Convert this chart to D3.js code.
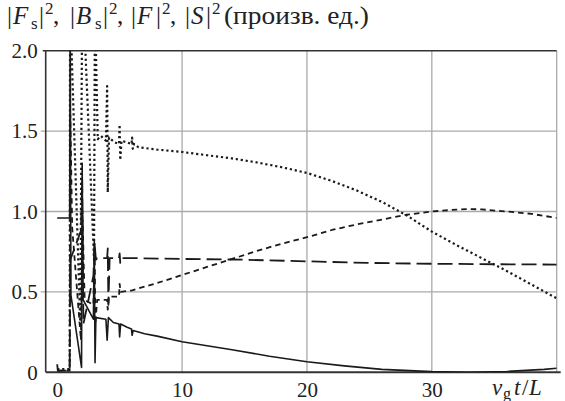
<!DOCTYPE html>
<html>
<head>
<meta charset="utf-8">
<script src="https://cdn.jsdelivr.net/npm/d3@7"></script>
<style>
  body { margin: 0; background: #fff; }
  svg text { font-family: "Liberation Serif", "Times New Roman", "DejaVu Serif", serif; fill: #222; }
</style>
</head>
<body>
<script>
// Chart size
const width = 565;
const height = 401;
const margin = { top: 50.7, right: 8.3, bottom: 28.7, left: 45.7 };

// Tick values
const xTicks = [0, 10, 20, 30];
const yTicks = [0, 0.5, 1.0, 1.5, 2.0];

// Curves, [v_g t/L, value]
const solidCurve = [[0, 0.96], [1.0, 0.96], [1.04, 2.3], [1.1, 0.48], [1.95, 0.03], [2.0, 1.3], [2.08, 0.45],
  [2.9, 0.33], [2.97, 0.82], [3.03, 0.06], [3.1, 0.34], [3.9, 0.33], [4.0, 0.2], [4.1, 0.34], [4.5, 0.31],
  [4.95, 0.3], [5.0, 0.22], [5.08, 0.3], [5.6, 0.28], [5.95, 0.27], [6.0, 0.23], [6.08, 0.26], [7, 0.24],
  [8, 0.225], [10, 0.19], [12, 0.165], [14, 0.14], [17, 0.1], [20, 0.066], [23, 0.04], [26, 0.018],
  [30, 0.004], [33, 0.0], [36, 0.005], [39, 0.018], [40, 0.025]];

const dottedCurve = [[0, 0.02], [1.0, 0.02], [1.03, 2.3], [1.85, 0.3], [2.0, 2.3], [2.1, 2.3], [2.95, 0.7],
  [3.02, 2.3], [3.25, 1.45], [3.5, 1.47], [3.9, 1.44], [4.0, 1.78], [4.05, 1.12], [4.15, 1.46], [4.6, 1.43],
  [4.95, 1.42], [5.0, 1.54], [5.05, 1.32], [5.15, 1.44], [5.6, 1.43], [5.95, 1.42], [6.0, 1.46],
  [6.05, 1.39], [6.15, 1.42], [6.5, 1.40], [8, 1.385], [10, 1.37], [12, 1.35], [14, 1.33], [16, 1.305],
  [18, 1.275], [20, 1.24], [22, 1.19], [24, 1.13], [26, 1.06], [28, 0.975], [30, 0.875], [32, 0.79],
  [34, 0.71], [36, 0.63], [38, 0.545], [40, 0.46]];

const shortDashCurve = [[0, 0.01], [1.0, 0.01], [1.05, 1.6], [1.2, 0.9], [1.9, 0.2], [2.02, 1.0], [2.2, 0.45],
  [2.9, 0.42], [3.0, 0.8], [3.05, 0.3], [3.2, 0.45], [4.0, 0.45], [4.05, 0.39], [4.15, 0.47], [4.95, 0.47],
  [5.0, 0.55], [5.08, 0.5], [6, 0.51], [8, 0.555], [10, 0.605], [12, 0.655], [14, 0.705], [16, 0.755],
  [18, 0.8], [20, 0.84], [22, 0.885], [24, 0.92], [26, 0.95], [28, 0.98], [30, 1.0], [32, 1.012],
  [33, 1.015], [34, 1.013], [36, 1.0], [38, 0.985], [40, 0.96]];

const longDashCurve = [[0, 0.05], [0.05, 0.01], [1.0, 0.01], [1.05, 0.7], [1.9, 0.88], [2.0, 1.2], [2.1, 0.3],
  [2.9, 0.6], [3.0, 0.8], [3.1, 0.7], [3.2, 0.71], [4.0, 0.71], [4.05, 0.77], [4.1, 0.42], [4.2, 0.71],
  [4.95, 0.71], [5.0, 0.74], [5.05, 0.68], [5.1, 0.71], [6, 0.71], [10, 0.705], [15, 0.7], [20, 0.69],
  [25, 0.68], [30, 0.675], [35, 0.672], [40, 0.67]];

const svg = d3.select("body").append("svg")
    .attr("width", width)
    .attr("height", height);

const x = d3.scaleLinear().domain([-0.92, 40]).range([margin.left, width - margin.right]);
const y = d3.scaleLinear().domain([0, 2]).range([height - margin.bottom, margin.top]);

// Clip for the spikes that run off the top
svg.append("clipPath").attr("id", "plot")
  .append("rect")
    .attr("x", x.range()[0])
    .attr("y", y(2))
    .attr("width", x.range()[1] - x.range()[0])
    .attr("height", y(0) - y(2));

// Grid lines
svg.append("g")
  .selectAll("line")
  .data(xTicks.filter(d => d > 0).concat([40]))
  .join("line")
    .attr("x1", d => x(d)).attr("x2", d => x(d))
    .attr("y1", y(0)).attr("y2", y(2))
    .attr("stroke", "#aaa")
    .attr("stroke-width", 1.3);

svg.append("g")
  .selectAll("line")
  .data(yTicks.filter(d => d > 0 && d < 2))
  .join("line")
    .attr("x1", x.range()[0] - 5).attr("x2", x.range()[1])
    .attr("y1", d => y(d)).attr("y2", d => y(d))
    .attr("stroke", "#aaa")
    .attr("stroke-width", 1.3);

// Axes (labels only, lines drawn separately)
const yAxis = d3.axisLeft(y)
    .tickValues(yTicks)
    .tickSize(0)
    .tickPadding(8)
    .tickFormat(d => d === 0 ? "0" : d3.format(".1f")(d));

svg.append("g")
    .attr("transform", `translate(${x.range()[0]},0)`)
    .call(yAxis)
    .call(g => g.select(".domain").remove())
    .call(g => g.selectAll("text").attr("font-size", 21));

const xAxis = d3.axisBottom(x)
    .tickValues(xTicks)
    .tickSize(0)
    .tickPadding(10);

svg.append("g")
    .attr("transform", `translate(0,${y(0)})`)
    .call(xAxis)
    .call(g => g.select(".domain").remove())
    .call(g => g.selectAll("text").attr("font-size", 21));

// Frame
svg.append("line")
    .attr("x1", x.range()[0] - 3).attr("x2", x.range()[1])
    .attr("y1", y(2)).attr("y2", y(2))
    .attr("stroke", "#333").attr("stroke-width", 1.6);
svg.append("line")
    .attr("x1", x.range()[0]).attr("x2", x.range()[0])
    .attr("y1", y(2)).attr("y2", y(0))
    .attr("stroke", "#333").attr("stroke-width", 1.6);
svg.append("line")
    .attr("x1", x.range()[0]).attr("x2", x.range()[1] + 4)
    .attr("y1", y(0)).attr("y2", y(0))
    .attr("stroke", "#333").attr("stroke-width", 2);

// Curves
const line = d3.line()
    .x(d => x(d[0]))
    .y(d => y(d[1]));

const curves = [
  { data: longDashCurve, dash: "15,6", w: 1.8 },
  { data: shortDashCurve, dash: "5.5,4", w: 1.8 },
  { data: dottedCurve, dash: "2.2,2.8", w: 2.2 },
  { data: solidCurve, dash: null, w: 1.6 }
];

svg.append("g")
    .attr("clip-path", "url(#plot)")
  .selectAll("path")
  .data(curves)
  .join("path")
    .attr("d", d => line(d.data))
    .attr("fill", "none")
    .attr("stroke", "#1a1a1a")
    .attr("stroke-width", d => d.w)
    .attr("stroke-dasharray", d => d.dash)
    .attr("stroke-linejoin", "round");

// Title, pieces placed like the typeset original
const titleY = 24;
const titleParts = [
  ["|", 7, 0, 25, "normal"], ["F", 13, 0, 25, "italic"], ["s", 31, 5, 17, "normal"], ["|", 39, 0, 25, "normal"],
  ["2", 45, -10, 17, "normal"], [",", 53, 0, 25, "normal"],
  ["|", 70, 0, 25, "normal"], ["B", 76, 0, 25, "italic"], ["s", 95, 5, 17, "normal"], ["|", 103, 0, 25, "normal"],
  ["2", 109, -10, 17, "normal"], [",", 117, 0, 25, "normal"],
  ["|", 131, 0, 25, "normal"], ["F", 137, 0, 25, "italic"], ["|", 156, 0, 25, "normal"],
  ["2", 162, -10, 17, "normal"], [",", 170, 0, 25, "normal"],
  ["|", 185, 0, 25, "normal"], ["S", 191, 0, 25, "italic"], ["|", 206, 0, 25, "normal"],
  ["2", 212, -10, 17, "normal"]
];
svg.append("g")
  .selectAll("text")
  .data(titleParts)
  .join("text")
    .attr("x", d => d[1])
    .attr("y", d => titleY + d[2])
    .attr("font-size", d => d[3])
    .attr("font-style", d => d[4])
    .text(d => d[0]);

svg.append("text")
    .attr("x", 224)
    .attr("y", titleY)
    .attr("font-size", 25)
    .attr("textLength", 145)
    .attr("lengthAdjust", "spacingAndGlyphs")
    .text("(произв. ед.)");

// x axis label
const xLabelParts = [
  ["v", 492, 0, 23, "italic"], ["g", 503, 4, 16, "normal"], ["t", 514, 0, 23, "italic"],
  ["/", 522, 0, 23, "normal"], ["L", 529, 0, 23, "italic"]
];
svg.append("g")
  .selectAll("text")
  .data(xLabelParts)
  .join("text")
    .attr("x", d => d[1])
    .attr("y", d => 395 + d[2])
    .attr("font-size", d => d[3])
    .attr("font-style", d => d[4])
    .text(d => d[0]);
</script>
</body>
</html>
